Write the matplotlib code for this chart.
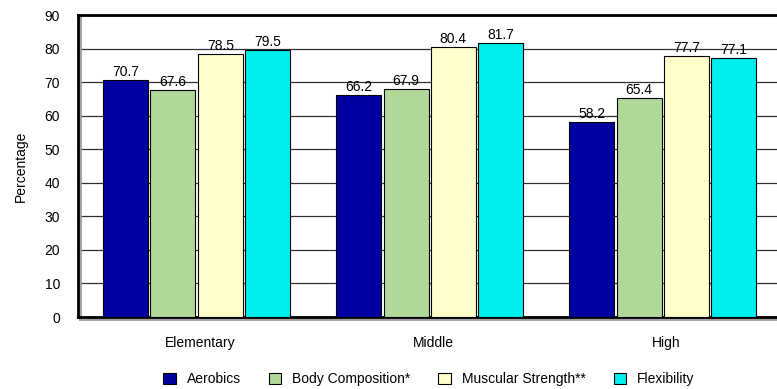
import matplotlib.pyplot as plt
import matplotlib.patheffects as pe
import numpy as np

plt.rcParams['font.family'] = ['Liberation Sans', 'DejaVu Sans']

schools = ['Elementary', 'Middle', 'High']
series = ['Aerobics', 'Body Composition*', 'Muscular Strength**', 'Flexibility']
aerobics = [70.7, 66.2, 58.2]
body_comp = [67.6, 67.9, 65.4]
muscular = [78.5, 80.4, 77.7]
flexibility = [79.5, 81.7, 77.1]
colors = ['#0000A0', '#B0D898', '#FFFFCC', '#00EEEE']

fig = plt.figure(figsize=(7.77, 3.89), dpi=100)
ax = fig.add_axes([0.1004, 0.185, 0.913, 0.776])

x = np.arange(len(schools))
width = 0.193
step = 0.203
values = [aerobics, body_comp, muscular, flexibility]
for i, (name, vals, c) in enumerate(zip(series, values, colors)):
    pos = x + (i - 1.5) * step - 0.015
    bars = ax.bar(pos, vals, width, color=c, edgecolor='black', linewidth=0.8,
                  label=name, zorder=3)
    for b, v in zip(bars, vals):
        ax.text(b.get_x() + b.get_width() / 2, v + 0.3, f'{v:.1f}',
                ha='center', va='bottom', fontsize=10, zorder=4)

ax.set_xlim(-0.524, 2.52)
ax.set_ylim(0, 90)
ax.set_yticks(range(0, 91, 10))
ax.yaxis.grid(True, color='#303030', linewidth=0.9, zorder=0)
ax.tick_params(axis='y', length=0, pad=13, labelsize=10)
ax.tick_params(axis='x', length=0, pad=14, labelsize=10)
ax.set_xticks(x)
ax.set_xticklabels(schools)
ax.set_ylabel('Percentage', fontsize=10, labelpad=12)

for side in ['left', 'bottom']:
    ax.spines[side].set_linewidth(2)
    ax.spines[side].set_path_effects([pe.SimpleLineShadow(offset=(1.5, -1.5), shadow_color='#a0a0a0', alpha=1),
                                      pe.Normal()])
ax.spines['top'].set_linewidth(2)
ax.spines['right'].set_visible(False)

fig.legend(loc='center', bbox_to_anchor=(0.552, 0.025), ncol=4, frameon=False,
           fontsize=10, handlelength=0.9, handleheight=0.9, handletextpad=0.8,
           columnspacing=2.0)

fig.savefig('out.png', dpi=100)
